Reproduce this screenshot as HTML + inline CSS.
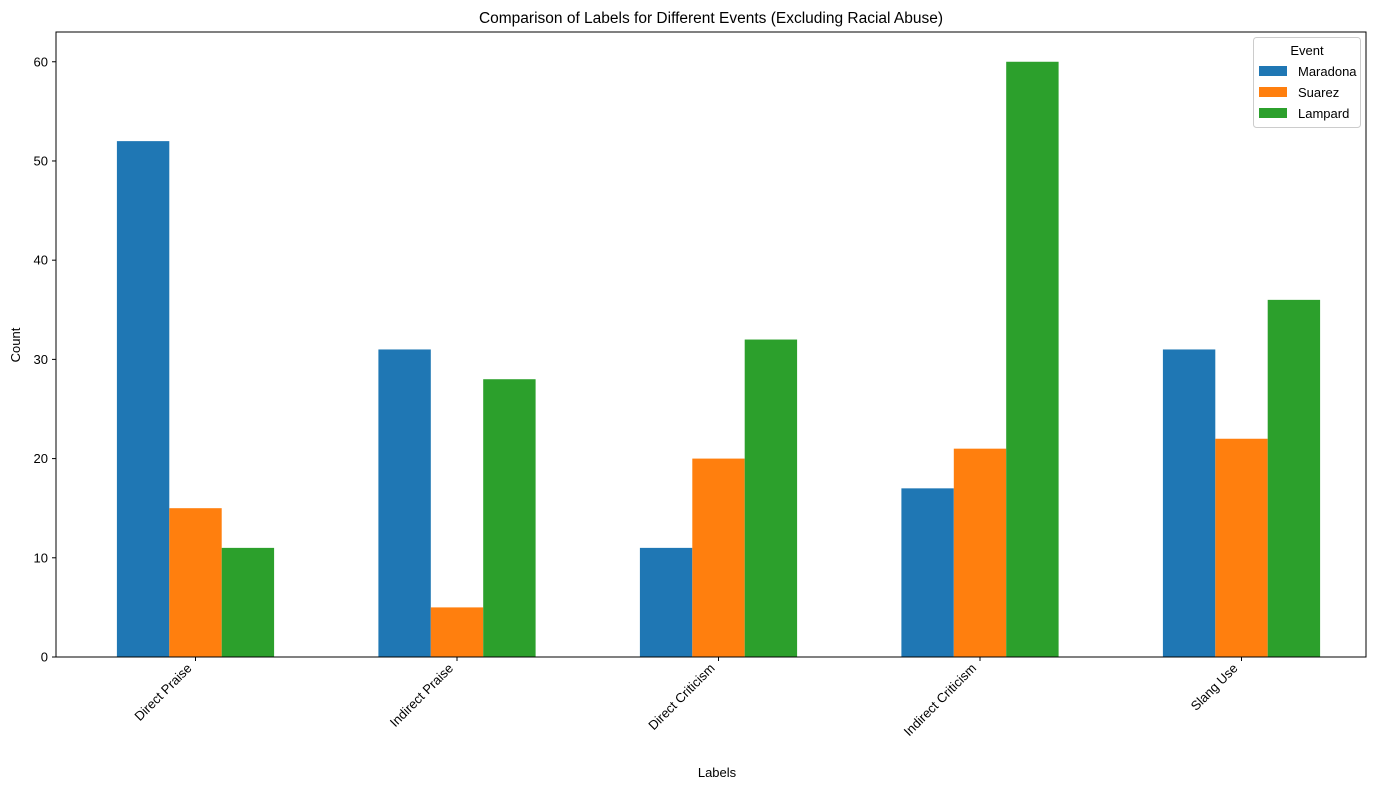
<!DOCTYPE html>
<html><head><meta charset="utf-8"><style>
body{margin:0;background:#fff;}
svg{display:block;font-family:"Liberation Sans","DejaVu Sans",sans-serif;}
</style></head><body>
<svg id="chart" width="1389" height="790" xmlns="http://www.w3.org/2000/svg">
<rect width="1389" height="790" fill="#fff"/>
<text x="711" y="23" font-size="15.5" text-anchor="middle">Comparison of Labels for Different Events (Excluding Racial Abuse)</text>
<g id="bars"></g>
<g id="yaxis"></g>
<g id="xaxis"></g>
<rect x="56" y="32" width="1310" height="625" fill="none" stroke="#000" stroke-width="1"/>
<text x="717" y="777" font-size="13" text-anchor="middle">Labels</text>
<text transform="translate(20,345) rotate(-90)" font-size="13" text-anchor="middle">Count</text>
<g id="legend"></g>
</svg>
<script>
const categories=["Direct Praise","Indirect Praise","Direct Criticism","Indirect Criticism","Slang Use"];
const seriesNames=["Maradona","Suarez","Lampard"];
const maradona=[52,31,11,17,31];
const suarez=[15,5,20,21,22];
const lampard=[11,28,32,60,36];
const yTicks=[0,10,20,30,40,50,60];
const colors=["#1f77b4","#ff7f0e","#2ca02c"];
const series=[maradona,suarez,lampard];
const NS="http://www.w3.org/2000/svg";
const L=56,R=1366,T=32,B=657;
const y=v=>B-(v/63)*(B-T);
const slot=261.5;
const x=i=>195.5+slot*i;
const bw=52.4;
function mk(tag,attrs,parent){const e=document.createElementNS(NS,tag);for(const k in attrs)e.setAttribute(k,attrs[k]);parent.appendChild(e);return e;}
const gb=document.getElementById('bars');
series.forEach((s,si)=>{s.forEach((v,i)=>{
const r=mk('rect',{x:x(i)+(si-1.5)*bw,y:y(v),width:bw,height:B-y(v),fill:colors[si]},gb);


});});
const gy=document.getElementById('yaxis');
yTicks.forEach(t=>{
mk('line',{x1:L-4,x2:L,y1:y(t),y2:y(t),stroke:'#000'},gy);
const tx=mk('text',{x:L-8,y:y(t)+4.5,'font-size':13,'text-anchor':'end'},gy);tx.textContent=t;


});
const gx=document.getElementById('xaxis');
categories.forEach((c,i)=>{
mk('line',{x1:x(i),x2:x(i),y1:B,y2:B+4,stroke:'#000'},gx);
const tx=mk('text',{transform:`translate(${x(i)-3},${B+12}) rotate(-45)`,'font-size':13,'text-anchor':'end'},gx);tx.textContent=c;


});
const lg=document.getElementById('legend');
mk('rect',{x:1253.5,y:37.5,width:107,height:90,rx:3,fill:'#fff',stroke:'#ccc'},lg);
const lt=mk('text',{x:1307,y:55,'font-size':13,'text-anchor':'middle'},lg);lt.textContent='Event';
seriesNames.forEach((n,i)=>{
const yy=66+i*21;
const p=mk('rect',{x:1259,y:yy,width:28,height:10,fill:colors[i]},lg);


const t=mk('text',{x:1298,y:yy+10,'font-size':13},lg);t.textContent=n;


});
</script>
</body></html>
